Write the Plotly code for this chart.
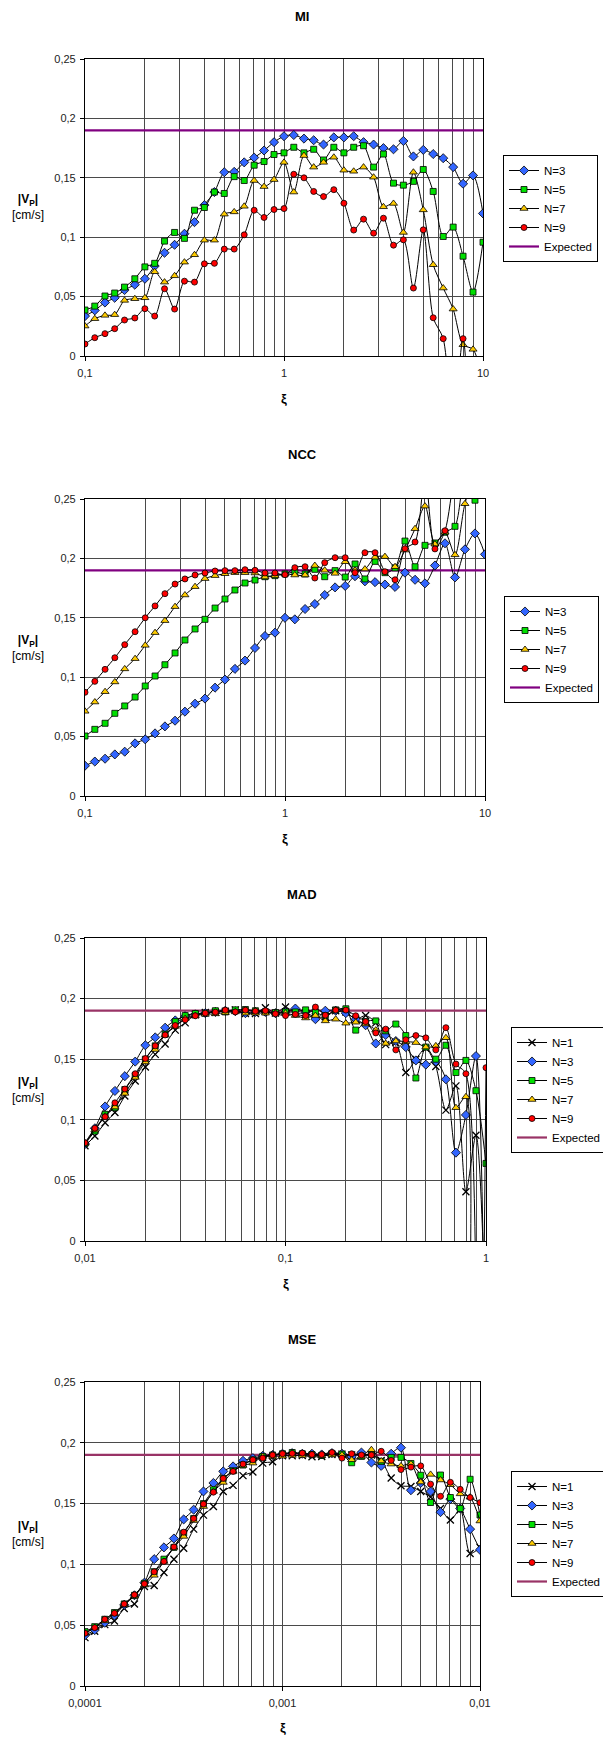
import math
import plotly.graph_objects as go

W, H = 603, 1738
FONT = "Liberation Sans, Arial, sans-serif"

# ---------------- data ----------------
XI_MI = [0.1, 0.112, 0.126, 0.141, 0.158, 0.178, 0.2, 0.224, 0.251, 0.282, 0.316, 0.355, 0.398, 0.447,
         0.501, 0.562, 0.631, 0.708, 0.794, 0.891, 1.0, 1.12, 1.26, 1.41, 1.58, 1.78, 2.0, 2.24, 2.51,
         2.82, 3.16, 3.55, 3.98, 4.47, 5.01, 5.62, 6.31, 7.08, 7.94, 8.91, 10.0]
XI_NCC = [0.1, 0.112, 0.126, 0.141, 0.158, 0.178, 0.2, 0.224, 0.251, 0.282, 0.316, 0.355, 0.398, 0.447,
          0.501, 0.562, 0.631, 0.708, 0.794, 0.891, 1.0, 1.12, 1.26, 1.41, 1.58, 1.78, 2.0, 2.24, 2.51,
          2.82, 3.16, 3.55, 3.98, 4.47, 5.01, 5.62, 6.31, 7.08, 7.94, 8.91, 10.0]
XI_MAD = [0.01, 0.0112, 0.0126, 0.0141, 0.0158, 0.0178, 0.02, 0.0224, 0.0251, 0.0282, 0.0316, 0.0355,
          0.0398, 0.0447, 0.0501, 0.0562, 0.0631, 0.0708, 0.0794, 0.0891, 0.1, 0.112, 0.126, 0.141,
          0.158, 0.178, 0.2, 0.224, 0.251, 0.282, 0.316, 0.355, 0.398, 0.447, 0.501, 0.562, 0.631,
          0.708, 0.794, 0.891, 1.0]
XI_MSE = [0.0001, 0.000112, 0.000126, 0.000141, 0.000158, 0.000178, 0.0002, 0.000224, 0.000251,
          0.000282, 0.000316, 0.000355, 0.000398, 0.000447, 0.000501, 0.000562, 0.000631, 0.000708,
          0.000794, 0.000891, 0.001, 0.00112, 0.00126, 0.00141, 0.00158, 0.00178, 0.002, 0.00224,
          0.00251, 0.00282, 0.00316, 0.00355, 0.00398, 0.00447, 0.00501, 0.00562, 0.00631, 0.00708,
          0.00794, 0.00891, 0.01]

EXPECTED = 0.19

MI_N3 = [0.0336, 0.0384, 0.045, 0.049, 0.0555, 0.060, 0.065, 0.0757, 0.0869, 0.0936, 0.1029, 0.1127,
         0.127, 0.138, 0.1547, 0.155, 0.163, 0.167, 0.173, 0.180, 0.185, 0.186, 0.183, 0.1816, 0.178,
         0.184, 0.184, 0.185, 0.180, 0.178, 0.175, 0.174, 0.181, 0.168, 0.1735, 0.170, 0.1665, 0.159,
         0.145, 0.152, 0.120]
MI_N5 = [0.0387, 0.042, 0.0505, 0.053, 0.058, 0.065, 0.075, 0.078, 0.0967, 0.104, 0.099, 0.1227, 0.125,
         0.138, 0.1368, 0.151, 0.1477, 0.1606, 0.1637, 0.1696, 0.171, 0.1757, 0.171, 0.174, 0.165,
         0.1757, 0.171, 0.1757, 0.177, 0.159, 0.170, 0.1455, 0.1438, 0.147, 0.157, 0.1385, 0.1006,
         0.1085, 0.084, 0.0538, 0.0958]
MI_N7 = [0.0252, 0.0314, 0.0342, 0.0348, 0.0468, 0.0482, 0.049, 0.0709, 0.0622, 0.0675, 0.079, 0.0852,
         0.0975, 0.0975, 0.1194, 0.1213, 0.126, 0.1477, 0.1426, 0.1485, 0.163, 0.138, 0.1687, 0.159,
         0.163, 0.1673, 0.1564, 0.1555, 0.159, 0.1505, 0.1256, 0.1284, 0.104, 0.1547, 0.123, 0.0768,
         0.0572, 0.0395, 0.0095, 0.0056, -0.02]
MI_N9 = [0.0101, 0.0154, 0.0188, 0.023, 0.0303, 0.032, 0.0398, 0.0336, 0.0566, 0.0395, 0.063, 0.0622,
         0.0776, 0.078, 0.090, 0.090, 0.102, 0.1227, 0.1166, 0.1233, 0.1241, 0.153, 0.150, 0.1385,
         0.1342, 0.140, 0.1286, 0.106, 0.1152, 0.1034, 0.116, 0.0933, 0.0978, 0.0572, 0.1062, 0.0322,
         0.0146, -0.06, 0.0146, -0.05, -0.05]

NCC_N3 = [0.0255, 0.029, 0.0314, 0.035, 0.0373, 0.0443, 0.0477, 0.0527, 0.0586, 0.0634, 0.071, 0.0777,
          0.082, 0.0912, 0.098, 0.107, 0.114, 0.1246, 0.1347, 0.1375, 0.150, 0.1487, 0.1574, 0.1616,
          0.1692, 0.1756, 0.1768, 0.185, 0.1807, 0.180, 0.178, 0.176, 0.188, 0.182, 0.179, 0.194,
          0.2127, 0.184, 0.2076, 0.221, 0.2034]
NCC_N5 = [0.0505, 0.0561, 0.0612, 0.0696, 0.0758, 0.0833, 0.0926, 0.101, 0.1105, 0.1204, 0.1313,
          0.1406, 0.1487, 0.1582, 0.1658, 0.1734, 0.1793, 0.1818, 0.1846, 0.1855, 0.1869, 0.1886,
          0.1869, 0.1908, 0.1846, 0.1897, 0.1843, 0.1953, 0.1827, 0.1975, 0.188, 0.192, 0.2146, 0.193,
          0.211, 0.213, 0.222, 0.227, 0.27, 0.249, 0.27]
NCC_N7 = [0.0713, 0.0791, 0.0878, 0.096, 0.107, 0.1156, 0.1268, 0.1375, 0.1476, 0.1594, 0.1692, 0.1762,
          0.183, 0.1855, 0.1871, 0.188, 0.188, 0.1877, 0.1843, 0.1855, 0.187, 0.186, 0.186, 0.194,
          0.190, 0.1874, 0.1972, 0.190, 0.191, 0.201, 0.2015, 0.193, 0.207, 0.225, 0.244, 0.212, 0.222,
          0.203, 0.246, 0.27, 0.27]
NCC_N9 = [0.0873, 0.0965, 0.1066, 0.1164, 0.1274, 0.1383, 0.150, 0.160, 0.1703, 0.1784, 0.1827, 0.186,
          0.1877, 0.1894, 0.1897, 0.1897, 0.1905, 0.190, 0.1877, 0.1877, 0.1863, 0.1922, 0.193, 0.1835,
          0.1964, 0.2006, 0.2006, 0.188, 0.2048, 0.2048, 0.1888, 0.182, 0.2082, 0.2138, 0.27, 0.208,
          0.2233, 0.27, 0.29, 0.28, 0.27]

MAD_N1 = [0.0786, 0.0866, 0.0976, 0.106, 0.1196, 0.132, 0.1436, 0.154, 0.1626, 0.174, 0.180, 0.1866,
          0.1885, 0.1888, 0.1896, 0.1907, 0.1877, 0.1877, 0.1924, 0.188, 0.193, 0.188, 0.188, 0.185,
          0.185, 0.190, 0.189, 0.183, 0.186, 0.180, 0.162, 0.1637, 0.139, 0.150, 0.159, 0.144, 0.108,
          0.128, 0.0407, 0.0872, -0.08]
MAD_N3 = [0.080, 0.093, 0.111, 0.1238, 0.136, 0.148, 0.1615, 0.168, 0.176, 0.182, 0.1855, 0.187, 0.188,
          0.189, 0.190, 0.1896, 0.188, 0.189, 0.189, 0.188, 0.1888, 0.1918, 0.1888, 0.183, 0.190, 0.190,
          0.188, 0.183, 0.178, 0.163, 0.170, 0.165, 0.160, 0.149, 0.1455, 0.148, 0.1334, 0.0729, 0.104,
          0.1526, -0.2]
MAD_N5 = [0.0805, 0.0907, 0.1045, 0.110, 0.125, 0.1365, 0.150, 0.161, 0.1706, 0.181, 0.186, 0.1877,
          0.188, 0.190, 0.189, 0.1907, 0.191, 0.190, 0.189, 0.1885, 0.189, 0.189, 0.1907, 0.1885, 0.186,
          0.1907, 0.1916, 0.174, 0.181, 0.1816, 0.1734, 0.179, 0.1695, 0.1345, 0.160, 0.150, 0.1615,
          0.139, 0.149, 0.124, 0.064]
MAD_N7 = [0.0805, 0.0915, 0.103, 0.1105, 0.1218, 0.135, 0.1477, 0.158, 0.170, 0.177, 0.1836, 0.186,
          0.187, 0.1874, 0.1885, 0.189, 0.188, 0.188, 0.188, 0.188, 0.188, 0.186, 0.184, 0.186, 0.1816,
          0.183, 0.1797, 0.1805, 0.179, 0.174, 0.163, 0.165, 0.1645, 0.1637, 0.160, 0.161, 0.1677,
          0.110, 0.119, -0.3, -0.3]
MAD_N9 = [0.081, 0.093, 0.1025, 0.114, 0.1254, 0.138, 0.1505, 0.161, 0.170, 0.1778, 0.1825, 0.1858,
          0.188, 0.1888, 0.1905, 0.189, 0.1905, 0.1896, 0.19, 0.1874, 0.186, 0.187, 0.186, 0.193,
          0.1863, 0.1905, 0.1905, 0.1858, 0.181, 0.1717, 0.1748, 0.1577, 0.166, 0.1695, 0.1676,
          0.1577, 0.176, 0.146, 0.138, -0.5, 0.143]

MSE_N1 = [0.0398, 0.045, 0.0505, 0.0535, 0.0637, 0.0675, 0.0818, 0.0826, 0.0933, 0.1043, 0.1133, 0.129,
          0.1405, 0.1476, 0.160, 0.165, 0.173, 0.176, 0.1833, 0.1844, 0.1893, 0.1893, 0.1896, 0.1885,
          0.1888, 0.1904, 0.1907, 0.19, 0.1899, 0.19, 0.1855, 0.171, 0.1647, 0.164, 0.160, 0.1553,
          0.146, 0.1365, 0.145, 0.109, 0.114]
MSE_N3 = [0.0417, 0.046, 0.052, 0.058, 0.0667, 0.0746, 0.085, 0.1043, 0.114, 0.1213, 0.137, 0.145,
          0.160, 0.167, 0.1765, 0.1806, 0.1852, 0.1874, 0.1893, 0.190, 0.191, 0.1915, 0.191, 0.191,
          0.1904, 0.1915, 0.191, 0.1885, 0.192, 0.1838, 0.181, 0.191, 0.196, 0.161, 0.167, 0.160,
          0.143, 0.1537, 0.146, 0.129, 0.112]
MSE_N5 = [0.0447, 0.0488, 0.0549, 0.0604, 0.0675, 0.0746, 0.0845, 0.094, 0.1043, 0.114, 0.1257, 0.1378,
          0.150, 0.1614, 0.1707, 0.177, 0.1817, 0.186, 0.1888, 0.19, 0.191, 0.192, 0.191, 0.1904,
          0.1896, 0.1913, 0.1907, 0.1836, 0.1888, 0.1907, 0.1847, 0.188, 0.188, 0.183, 0.1733, 0.1509,
          0.1735, 0.155, 0.146, 0.170, 0.1406]
MSE_N7 = [0.0434, 0.048, 0.0535, 0.0593, 0.0667, 0.074, 0.083, 0.091, 0.1024, 0.114, 0.123, 0.136,
          0.1476, 0.160, 0.1674, 0.1765, 0.1814, 0.1833, 0.1888, 0.1888, 0.189, 0.1896, 0.1896, 0.19,
          0.1893, 0.19, 0.19, 0.186, 0.1888, 0.1943, 0.185, 0.1825, 0.181, 0.1826, 0.1677, 0.174,
          0.1694, 0.1655, 0.158, 0.1553, 0.1357]
MSE_N9 = [0.0434, 0.048, 0.0549, 0.0598, 0.0675, 0.075, 0.084, 0.0939, 0.1024, 0.1144, 0.1265, 0.1378,
          0.1496, 0.1594, 0.1707, 0.1765, 0.1825, 0.186, 0.1874, 0.19, 0.191, 0.1913, 0.1915, 0.1904,
          0.1904, 0.192, 0.1874, 0.191, 0.19, 0.19, 0.193, 0.1855, 0.178, 0.180, 0.181, 0.166, 0.156,
          0.1675, 0.1617, 0.155, 0.1508]

Y_TICKS = [0, 0.05, 0.1, 0.15, 0.2, 0.25]
Y_TICKTEXT = ["0", "0,05", "0,1", "0,15", "0,2", "0,25"]

# ---------------- styles ----------------
STYLE = {
    "N=1": dict(symbol="x-thin", color="#000000", size=7),
    "N=3": dict(symbol="diamond", color="#3366FF", size=7),
    "N=5": dict(symbol="square", color="#00E000", size=6),
    "N=7": dict(symbol="triangle-up", color="#FFCC00", size=7),
    "N=9": dict(symbol="circle", color="#FF0000", size=6),
}

PANELS = [
    dict(title="MI", xs=XI_MI, series=[("N=3", MI_N3), ("N=5", MI_N5), ("N=7", MI_N7), ("N=9", MI_N9)],
         box=(85, 59, 483, 356), leg=(503, 155), exp_color="#800080",
         major=[0.1, 1, 10], majtxt=["0,1", "1", "10"],
         minor=[0.2, 0.3, 0.4, 0.5, 0.6, 0.7, 0.8, 0.9, 2, 3, 4, 5, 6, 7, 8, 9], title_y=17, xi_y=398),
    dict(title="NCC", xs=XI_NCC, series=[("N=3", NCC_N3), ("N=5", NCC_N5), ("N=7", NCC_N7), ("N=9", NCC_N9)],
         box=(85, 499, 485, 796), leg=(504, 596), exp_color="#800080",
         major=[0.1, 1, 10], majtxt=["0,1", "1", "10"],
         minor=[0.2, 0.3, 0.4, 0.5, 0.6, 0.7, 0.8, 0.9, 2, 3, 4, 5, 6, 7, 8, 9], title_y=455, xi_y=838),
    dict(title="MAD", xs=XI_MAD, series=[("N=1", MAD_N1), ("N=3", MAD_N3), ("N=5", MAD_N5), ("N=7", MAD_N7), ("N=9", MAD_N9)],
         box=(85, 938, 486, 1241), leg=(511, 1027), exp_color="#993366",
         major=[0.01, 0.1, 1], majtxt=["0,01", "0,1", "1"],
         minor=[0.02, 0.03, 0.04, 0.05, 0.06, 0.07, 0.08, 0.09, 0.2, 0.3, 0.4, 0.5, 0.6, 0.7, 0.8, 0.9],
         title_y=895, xi_y=1283),
    dict(title="MSE", xs=XI_MSE, series=[("N=1", MSE_N1), ("N=3", MSE_N3), ("N=5", MSE_N5), ("N=7", MSE_N7), ("N=9", MSE_N9)],
         box=(85, 1382, 480, 1686), leg=(511, 1471), exp_color="#993366",
         major=[0.0001, 0.001, 0.01], majtxt=["0,0001", "0,001", "0,01"],
         minor=[0.0002, 0.0003, 0.0004, 0.0005, 0.0006, 0.0007, 0.0008, 0.0009,
                0.002, 0.003, 0.004, 0.005, 0.006, 0.007, 0.008, 0.009], title_y=1339, xi_y=1727),
]

fig = go.Figure()
layout = dict(width=W, height=H, margin=dict(l=0, r=0, t=0, b=0, autoexpand=False),
              paper_bgcolor="white", plot_bgcolor="white",
              font=dict(family=FONT, size=11, color="#000000"), annotations=[])

GRID = "#4a4a4a"

for k, p in enumerate(PANELS, start=1):
    sfx = "" if k == 1 else str(k)
    xa, ya = "x" + sfx, "y" + sfx
    lg = "legend" + sfx
    x0, y0, x1, y1 = p["box"]
    layout["xaxis" + sfx] = dict(
        type="log", domain=[x0 / W, x1 / W], anchor=ya,
        range=[math.log10(p["major"][0]), math.log10(p["major"][-1])],
        tickmode="array", tickvals=p["major"], ticktext=p["majtxt"],
        ticks="outside", ticklen=4, tickcolor="#000", ticklabelstandoff=3,
        showgrid=True, gridcolor=GRID, gridwidth=1,
        minor=dict(tickmode="array", tickvals=p["minor"], showgrid=True, gridcolor=GRID, gridwidth=1, ticks=""),
        showline=True, mirror=True, linecolor="#000", linewidth=1.2,
        tickfont=dict(size=11, color="#222"), zeroline=False, fixedrange=True)
    layout["yaxis" + sfx] = dict(
        domain=[1 - y1 / H, 1 - y0 / H], anchor=xa, range=[0, 0.25],
        tickmode="array", tickvals=Y_TICKS, ticktext=Y_TICKTEXT,
        ticks="outside", ticklen=4, tickcolor="#000", ticklabelstandoff=2,
        showgrid=True, gridcolor=GRID, gridwidth=1,
        showline=True, mirror=True, linecolor="#000", linewidth=1.2,
        tickfont=dict(size=11, color="#222"), zeroline=False, fixedrange=True)
    lx, ly = p["leg"]
    layout[lg] = dict(x=lx / W, y=1 - ly / H, xanchor="left", yanchor="top",
                      bordercolor="#000", borderwidth=1, bgcolor="white",
                      font=dict(size=11.5, family=FONT, color="#000"),
                      itemwidth=30, tracegroupgap=0)

    # expected line (drawn first, listed last)
    fig.add_trace(go.Scatter(
        x=[p["xs"][0], p["xs"][-1]], y=[EXPECTED, EXPECTED], mode="lines", name="Expected",
        line=dict(color=p["exp_color"], width=2.2), xaxis=xa, yaxis=ya, legend=lg, legendrank=2000,
        hoverinfo="skip"))
    for r, (name, vals) in enumerate(p["series"]):
        s = STYLE[name]
        if s["symbol"] == "x-thin":
            marker = dict(symbol="x-thin", size=s["size"], color="#000",
                          line=dict(color="#000", width=1.3))
        else:
            marker = dict(symbol=s["symbol"], size=s["size"], color=s["color"],
                          line=dict(color="#000", width=0.8))
        fig.add_trace(go.Scatter(
            x=p["xs"], y=vals, mode="lines+markers", name=name,
            line=dict(color="#000", width=1, shape="spline", smoothing=0.8),
            marker=marker, xaxis=xa, yaxis=ya, legend=lg, legendrank=100 + r))

    cx = (x0 + x1) / 2 / W
    layout["annotations"] += [
        dict(text="<b>" + p["title"] + "</b>", x=302 / W, y=1 - p["title_y"] / H, xref="paper", yref="paper",
             showarrow=False, xanchor="center", yanchor="middle", font=dict(size=13, family=FONT)),
        dict(text="<b>|V<sub>P</sub>|</b><br>[cm/s]", x=28 / W, y=1 - ((y0 + y1) / 2) / H,
             xref="paper", yref="paper", showarrow=False, xanchor="center", yanchor="middle",
             font=dict(size=12, family=FONT)),
        dict(text="<b>ξ</b>", x=cx, y=1 - p["xi_y"] / H, xref="paper", yref="paper",
             showarrow=False, xanchor="center", yanchor="middle", font=dict(size=13, family=FONT)),
    ]

layout["showlegend"] = True
fig.update_layout(**layout)
fig.write_html("out.html", config={"displayModeBar": False},
               post_script="document.body.style.margin='0';document.body.style.padding='0';")
